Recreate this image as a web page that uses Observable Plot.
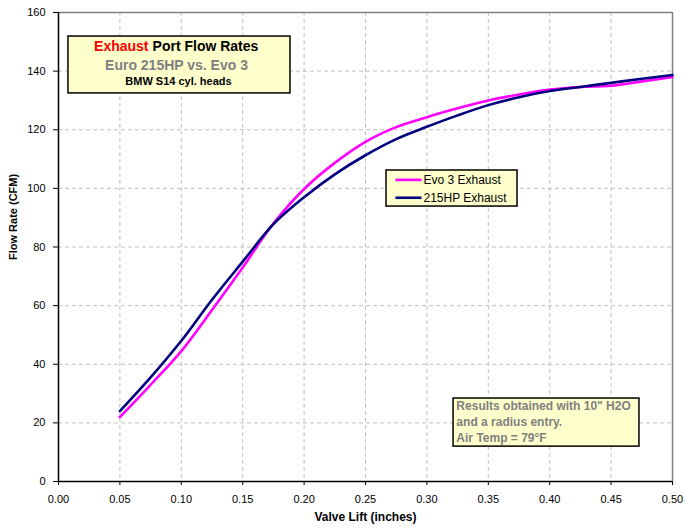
<!DOCTYPE html>
<html>
<head>
<meta charset="utf-8">
<script src="https://cdn.jsdelivr.net/npm/d3@7"></script>
<script src="https://cdn.jsdelivr.net/npm/@observablehq/plot@0.6"></script>
<style>
  body { margin: 0; background: #ffffff; }
  #chart svg { display: block; }
</style>
</head>
<body>
<div id="chart"></div>
<script>
// ---- data ----
const lift = [0.05, 0.075, 0.10, 0.125, 0.15, 0.175, 0.20, 0.225, 0.25, 0.275, 0.30, 0.325, 0.35, 0.375, 0.40, 0.425, 0.45, 0.475, 0.50];
const evo3Exhaust = [22.0, 33.0, 44.5, 58.5, 73.0, 88.0, 99.8, 108.7, 115.9, 120.9, 124.3, 127.3, 130.0, 132.0, 133.7, 134.6, 135.0, 136.5, 138.0];
const hp215Exhaust = [24.0, 35.5, 48.0, 62.0, 75.0, 87.8, 97.0, 104.8, 111.3, 116.8, 121.0, 124.9, 128.4, 131.1, 133.2, 134.6, 136.0, 137.4, 138.7];
const seriesNames = ["Evo 3 Exhaust", "215HP Exhaust"];
const seriesColors = ["#ff00ff", "#000080"];
const xTicks = [0, 0.05, 0.10, 0.15, 0.20, 0.25, 0.30, 0.35, 0.40, 0.45, 0.50];
const yTicks = [0, 20, 40, 60, 80, 100, 120, 140, 160];
const xTitle = "Valve Lift (inches)";
const yTitle = "Flow Rate (CFM)";
const titleRed = "Exhaust";
const titleRest = "Port Flow Rates";
const subtitle = "Euro 215HP vs. Evo 3";
const subsubtitle = "BMW S14 cyl. heads";
const noteLines = ["Results obtained with 10\" H2O", "and a radius entry.", "Air Temp = 79°F"];

const rows = lift.flatMap((x, i) => [
  {series: seriesNames[0], lift: x, cfm: evo3Exhaust[i]},
  {series: seriesNames[1], lift: x, cfm: hp215Exhaust[i]}
]);

const font = "'Liberation Sans', Arial, sans-serif";
const boxFill = "#ffffcc";

const chart = Plot.plot({
  width: 686,
  height: 529,
  marginLeft: 58,
  marginRight: 14,
  marginTop: 12,
  marginBottom: 48,
  style: {fontFamily: font, fontSize: "11px", color: "#000", background: "#fff"},
  x: {domain: [0, 0.5], ticks: xTicks},
  y: {domain: [0, 160], ticks: yTicks},
  color: {domain: seriesNames, range: seriesColors},
  marks: [
    // grid
    Plot.gridY(yTicks.filter(d => d > 0 && d < 160), {stroke: "#c0c0c0", strokeOpacity: 1, strokeDasharray: "4,3"}),
    Plot.gridX(xTicks.filter(d => d > 0 && d < 0.5), {stroke: "#c0c0c0", strokeOpacity: 1, strokeDasharray: "4,3"}),
    // top/right frame
    Plot.ruleY([160], {stroke: "#808080", strokeWidth: 1.5}),
    Plot.ruleX([0.5], {stroke: "#808080", strokeWidth: 1.5}),
    // series
    Plot.line(rows, {x: "lift", y: "cfm", z: "series", stroke: "series", strokeWidth: 2.6, curve: "catmull-rom"}),
    // axes
    Plot.axisX(xTicks, {tickSize: 4, tickPadding: 10, tickFormat: d3.format(".2f"), label: null, fontSize: 11}),
    Plot.axisY(yTicks, {tickSize: 5, tickPadding: 8, label: null, fontSize: 11}),
    Plot.ruleY([0], {stroke: "#000", strokeWidth: 1.5}),
    Plot.ruleX([0], {stroke: "#000", strokeWidth: 1.5}),
    // axis titles
    Plot.text([xTitle], {text: d => d, frameAnchor: "bottom", dy: 39, fontWeight: "bold", fontSize: 12, fill: "#000"}),
    Plot.text([yTitle], {text: d => d, frameAnchor: "left", dx: -45, dy: 13, rotate: -90, fontWeight: "bold", fontSize: 11, fill: "#000"}),
    // title box
    Plot.rect([0], {x1: 0.0081, x2: 0.1889, y1: 132.4, y2: 151.8, fill: boxFill, stroke: "#000", strokeWidth: 1.5}),
    Plot.text([titleRed], {text: d => d, x: 0.0733, y: 147.0, textAnchor: "end", lineAnchor: "bottom", fill: "#ff0000", fontWeight: "bold", fontSize: 14}),
    Plot.text([titleRest], {text: d => d, x: 0.0766, y: 147.0, textAnchor: "start", lineAnchor: "bottom", fill: "#000", fontWeight: "bold", fontSize: 14}),
    Plot.text([subtitle], {text: d => d, x: 0.0961, y: 140.5, lineAnchor: "bottom", fill: "#808080", fontWeight: "bold", fontSize: 14}),
    Plot.text([subsubtitle], {text: d => d, x: 0.0977, y: 135.4, lineAnchor: "bottom", fill: "#000", fontWeight: "bold", fontSize: 11}),
    // legend box
    Plot.rect([0], {x1: 0.2671, x2: 0.3738, y1: 93.8, y2: 106.1, fill: boxFill, stroke: "#000", strokeWidth: 1.5}),
    Plot.link(seriesNames, {x1: 0.2744, x2: 0.2956, y1: (d, i) => [102.9, 96.8][i], y2: (d, i) => [102.9, 96.8][i], stroke: d => d, strokeWidth: 2.6}),
    Plot.text(seriesNames, {text: d => d, x: 0.2972, y: (d, i) => [102.9, 96.8][i], textAnchor: "start", fill: "#000", fontSize: 12}),
    // note box
    Plot.rect([0], {x1: 0.3217, x2: 0.4731, y1: 11.9, y2: 28.3, fill: boxFill, stroke: "#000", strokeWidth: 1.5}),
    Plot.text(noteLines, {text: d => d, x: 0.3240, y: (d, i) => [24.4, 19.0, 13.6][i], textAnchor: "start", lineAnchor: "bottom", fill: "#808080", fontWeight: "bold", fontSize: 12})
  ]
});

document.getElementById("chart").appendChild(chart);
</script>
</body>
</html>
